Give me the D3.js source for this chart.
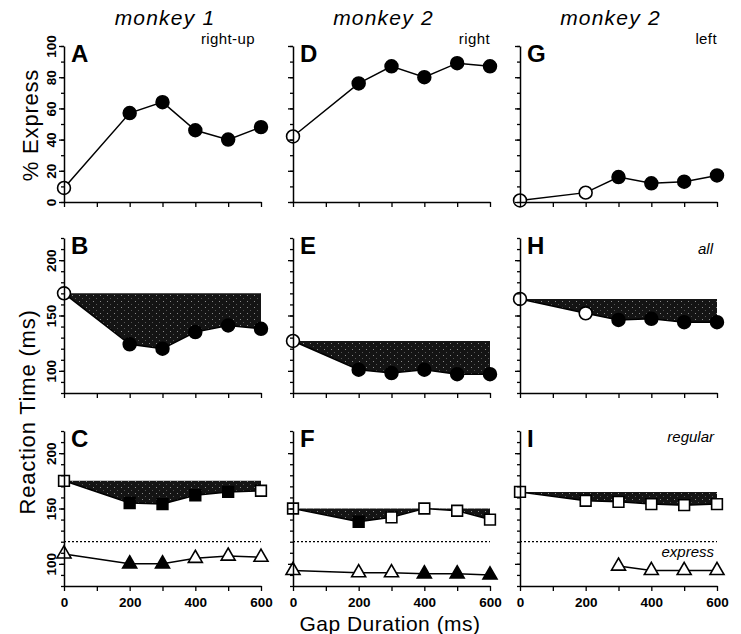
<!DOCTYPE html>
<meta charset="utf-8">
<style>
body { margin: 0; background: #fff; }
svg { font-family: "Liberation Sans", Arial, sans-serif; }
.axis .domain { stroke: #000; stroke-width: 1.5; }
.axis line { stroke: #000; stroke-width: 1.3; }
.axis text { font-size: 13.5px; font-weight: bold; fill: #000; font-family: "Liberation Sans", Arial, sans-serif; }
</style>
<svg width="741" height="634"></svg>
<script src="https://cdn.jsdelivr.net/npm/d3@7"></script>
<script>

// ---- data ----
var gaps = [0, 200, 300, 400, 500, 600];
var xTicks = [0, 200, 400, 600];
var pctTicks = [0, 20, 40, 60, 80, 100];
var rtTicks = [100, 150, 200];
var monkeys = ["monkey 1", "monkey 2", "monkey 2"];
var directions = ["right-up", "right", "left"];
var letters = [["A", "B", "C"], ["D", "E", "F"], ["G", "H", "I"]];

// % express saccades (top row)
var expressA = [9, 57, 64, 46, 40, 48];
var expressD = [42, 76, 87, 80, 89, 87];
var expressG = [1, 6, 16, 12, 13, 17];
// mean RT, all saccades (middle row)
var rtAllB = [170, 124, 120, 135, 141, 138];
var rtAllE = [127, 101, 98, 101, 97, 97];
var rtAllH = [165, 152, 146, 147, 144, 144];
// mean RT, regular saccades (bottom row, squares)
var rtRegC = [175, 155, 154, 162, 165, 166];
var rtRegF = [150, 138, 142, 150, 148, 140];
var rtRegI = [165, 157, 156, 154, 153, 154];
// mean RT, express saccades (bottom row, triangles)
var rtExpC = [109, 100, 100, 105, 107, 106];
var rtExpF = [94, 92, 92, 91, 91, 90];
var rtExpI = [null, null, 98, 94, 94, 94];
var expressCut = 120;

// 1 = filled symbol, 0 = open symbol
var fillA = [0, 1, 1, 1, 1, 1], fillD = [0, 1, 1, 1, 1, 1], fillG = [0, 0, 1, 1, 1, 1];
var fillB = [0, 1, 1, 1, 1, 1], fillE = [0, 1, 1, 1, 1, 1], fillH = [0, 0, 1, 1, 1, 1];
var fillRegC = [0, 1, 1, 1, 1, 0], fillRegF = [0, 1, 0, 0, 0, 0], fillRegI = [0, 0, 0, 0, 0, 0];
var fillExpC = [0, 1, 1, 0, 0, 0], fillExpF = [0, 0, 0, 1, 1, 1], fillExpI = [0, 0, 0, 0, 0, 0];

var top_ = [expressA, expressD, expressG], topFill = [fillA, fillD, fillG];
var mid = [rtAllB, rtAllE, rtAllH], midFill = [fillB, fillE, fillH];
var reg = [rtRegC, rtRegF, rtRegI], regFill = [fillRegC, fillRegF, fillRegI];
var exp = [rtExpC, rtExpF, rtExpI], expFill = [fillExpC, fillExpF, fillExpI];

// ---- layout ----
var svg = d3.select("svg");
var colX = [64, 293, 520], panelW = 197;
var rows = [
  {domain: [0, 100], range: [202, 46]},
  {domain: [80, 220], range: [393, 238]},
  {domain: [80, 220], range: [586, 431]}
];

var defs = svg.append("defs");
var pat = defs.append("pattern").attr("id", "stip")
    .attr("width", 7).attr("height", 6).attr("patternUnits", "userSpaceOnUse");
pat.append("rect").attr("width", 7).attr("height", 6).attr("fill", "#141414");
pat.append("rect").attr("x", 2).attr("y", 1).attr("width", 1).attr("height", 1).attr("fill", "#8a8a8a");
pat.append("rect").attr("x", 5).attr("y", 4).attr("width", 1).attr("height", 1).attr("fill", "#555");

function markers(g, x, y, vals, filled, shape) {
  var pts = gaps.map(function(d, i) { return {gap: d, v: vals[i], f: filled[i]}; })
      .filter(function(d) { return d.v != null; });
  g.append("path")
      .datum(pts)
      .attr("fill", "none").attr("stroke", "#000").attr("stroke-width", 1.5)
      .attr("d", d3.line().x(function(d) { return x(d.gap); }).y(function(d) { return y(d.v); }));
  var sym = shape === "square" ? d3.symbol(d3.symbolSquare, 115)
          : shape === "triangle" ? d3.symbol(d3.symbolTriangle, 85)
          : d3.symbol(d3.symbolCircle, 130);
  g.selectAll(null).data(pts).enter().append("path")
      .attr("transform", function(d) { return "translate(" + x(d.gap) + "," + y(d.v) + ")"; })
      .attr("d", sym)
      .attr("fill", function(d) { return d.f ? "#000" : "#fff"; })
      .attr("stroke", "#000").attr("stroke-width", 1.6);
}

function shade(g, x, y, vals) {
  var base = vals[0];
  g.append("path")
      .datum(gaps.map(function(d, i) { return {gap: d, v: vals[i]}; }))
      .attr("fill", "url(#stip)")
      .attr("d", d3.area().x(function(d) { return x(d.gap); })
          .y0(y(base)).y1(function(d) { return y(d.v); }));
}

for (var c = 0; c < 3; c++) {
  var x = d3.scaleLinear().domain([0, 600]).range([colX[c], colX[c] + panelW]);

  svg.append("text")
      .attr("x", c === 0 ? 165 : colX[c] + panelW / 2 - 8).attr("y", 25)
      .attr("text-anchor", "middle").attr("font-size", 21).attr("font-style", "italic")
      .attr("letter-spacing", 1.2)
      .text(monkeys[c]);
  svg.append("text")
      .attr("x", colX[c] + panelW - (c === 0 ? 6 : 0)).attr("y", 44)
      .attr("text-anchor", "end").attr("font-size", 15).attr("letter-spacing", 0.4)
      .text(directions[c]);

  for (var r = 0; r < 3; r++) {
    var y = d3.scaleLinear().domain(rows[r].domain).range(rows[r].range);
    var g = svg.append("g");

    // data first so axes sit on top
    if (r === 0) {
      markers(g, x, y, top_[c], topFill[c], "circle");
    } else if (r === 1) {
      shade(g, x, y, mid[c]);
      markers(g, x, y, mid[c], midFill[c], "circle");
    } else {
      shade(g, x, y, reg[c]);
      g.append("line")
          .attr("x1", x(0)).attr("x2", x(600)).attr("y1", y(expressCut)).attr("y2", y(expressCut))
          .attr("stroke", "#000").attr("stroke-width", 1.3).attr("stroke-dasharray", "2,2");
      markers(g, x, y, reg[c], regFill[c], "square");
      markers(g, x, y, exp[c], expFill[c], "triangle");
    }

    // x axis
    var isBottom = r === 2;
    g.append("g").attr("class", "axis")
        .attr("transform", "translate(0," + rows[r].range[0] + ")")
        .call(d3.axisBottom(x).tickValues(d3.range(0, 601, 100)).tickSize(5).tickSizeOuter(0).tickPadding(6)
            .tickFormat(function(d) { return isBottom && xTicks.indexOf(d) >= 0 ? d : ""; }));

    // y axis: minor + major ticks
    var lo = rows[r].domain[0], hi = rows[r].domain[1];
    var majors = r === 0 ? pctTicks : rtTicks;
    g.append("g").attr("class", "axis")
        .attr("transform", "translate(" + colX[c] + ",0)")
        .call(d3.axisLeft(y).tickValues(d3.range(lo, hi + 1, 10)).tickSize(3).tickSizeOuter(0).tickFormat(""));
    var ya = g.append("g").attr("class", "axis")
        .attr("transform", "translate(" + colX[c] + ",0)")
        .call(d3.axisLeft(y).tickValues(majors).tickSize(5).tickSizeOuter(0)
            .tickFormat(function(d) { return c === 0 ? d : ""; }));
    ya.select(".domain").remove();
    ya.selectAll(".tick text")
        .attr("transform", "rotate(-90)")
        .attr("x", 0).attr("y", -8).attr("dy", 0)
        .attr("text-anchor", "middle");

    // panel letter
    svg.append("text")
        .attr("x", colX[c] + 7).attr("y", rows[r].range[1] + 16)
        .attr("font-size", 24).attr("font-weight", "bold")
        .text(letters[c][r]);
  }
}

// in-panel labels for the right column
svg.append("text").attr("x", 713).attr("y", 254).attr("text-anchor", "end")
    .attr("font-size", 15).attr("font-style", "italic").text("all");
svg.append("text").attr("x", 714).attr("y", 442).attr("text-anchor", "end")
    .attr("font-size", 15).attr("font-style", "italic").text("regular");
svg.append("text").attr("x", 714).attr("y", 557).attr("text-anchor", "end")
    .attr("font-size", 15).attr("font-style", "italic").text("express");

// axis titles
svg.append("text")
    .attr("transform", "translate(38,125) rotate(-90)")
    .attr("text-anchor", "middle").attr("font-size", 22).attr("letter-spacing", 0.8)
    .text("% Express");
svg.append("text")
    .attr("transform", "translate(35,412) rotate(-90)")
    .attr("text-anchor", "middle").attr("font-size", 22).attr("letter-spacing", 0.8)
    .text("Reaction Time (ms)");
svg.append("text")
    .attr("x", 390).attr("y", 631)
    .attr("text-anchor", "middle").attr("font-size", 21).attr("letter-spacing", 0.5)
    .text("Gap Duration (ms)");

</script>
